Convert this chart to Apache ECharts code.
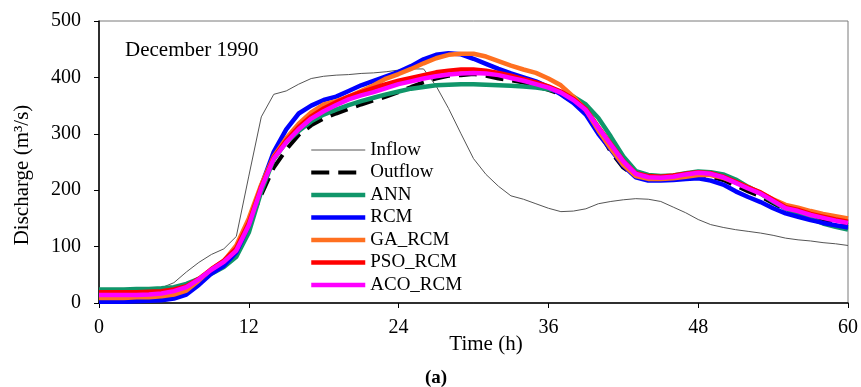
<!DOCTYPE html>
<html>
<head>
<meta charset="utf-8">
<script src="https://cdn.jsdelivr.net/npm/echarts@6/dist/echarts.min.js"></script>
<style>html,body{margin:0;padding:0;background:#fff;}#c{width:861px;height:387px;}</style>
</head>
<body>
<div id="c"></div>
<script>
const hours = [0,1,2,3,4,5,6,7,8,9,10,11,12,13,14,15,16,17,18,19,20,21,22,23,24,25,26,27,28,29,30,31,32,33,34,35,36,37,38,39,40,41,42,43,44,45,46,47,48,49,50,51,52,53,54,55,56,57,58,59,60];
const xTicks = [0,12,24,36,48,60];
const yTicks = [0,100,200,300,400,500];

const inflow = [22,22,22,23,24,27,36,55,72,86,96,118,225,330,370,376,388,398,402,404,405,407,408,410,413,415,415,385,345,300,256,228,207,190,184,176,168,162,163,167,176,180,183,185,184,180,170,160,148,139,134,130,127,124,120,115,112,110,107,105,102];
const outflow = [2,2,3,4,5,7,10,18,35,55,68,92,138,192,240,272,298,315,327,336,344,352,359,366,374,383,391,398,403,404,406,403,398,395,391,384,378,370,356,337,305,268,240,225,220,220,222,225,227,224,218,208,198,189,177,165,159,153,148,143,139];
const ann = [24,24,24,25,25,26,28,34,43,52,64,82,125,198,255,285,305,322,334,343,351,358,364,370,375,380,383,386,387,388,388,387,386,385,384,382,379,374,366,352,328,295,260,234,227,225,226,230,233,232,228,219,206,194,180,167,158,150,141,135,130];
const rcm = [2,2,2,3,4,5,8,15,32,52,66,90,138,208,268,308,336,350,360,366,376,386,394,402,410,420,432,440,443,441,433,424,415,407,400,393,383,370,355,334,300,272,243,223,217,217,218,220,221,217,210,198,188,179,168,159,153,147,142,138,134];
const gaRcm = [9,9,9,10,10,12,15,22,40,60,74,102,150,210,260,292,318,338,352,358,366,376,386,398,406,415,425,434,440,442,442,437,429,421,414,408,398,386,366,342,306,274,245,225,220,220,221,224,227,227,222,214,205,195,184,174,169,163,158,154,150];
const psoRcm = [19,19,19,19,20,21,24,30,43,60,75,97,142,206,258,288,312,331,345,356,366,374,381,388,394,399,404,409,412,414,414,412,408,403,397,391,384,375,362,344,312,282,252,230,225,224,226,229,232,230,224,215,205,196,183,170,165,158,153,148,144];
const acoRcm = [14,14,14,14,15,17,21,28,42,59,73,93,138,204,256,285,308,327,340,351,361,368,374,381,388,393,398,402,405,407,408,407,404,399,394,388,382,373,360,342,311,281,251,229,223,222,224,228,231,229,223,213,203,194,181,168,163,156,151,146,142];

const names = ['Inflow','Outflow','ANN','RCM','GA_RCM','PSO_RCM','ACO_RCM'];
const values = [inflow, outflow, ann, rcm, gaRcm, psoRcm, acoRcm];
const colors = ['#555555','#000000','#10966A','#0000FF','#FF7020','#FF0000','#FF00FF'];
const widths = [1,4,4.5,4.5,4.5,4.5,4.5];

const FONT = 'Liberation Serif';
const series = names.map((n, i) => ({
  name: n,
  type: 'line',
  symbol: 'none',
  showSymbol: false,
  smooth: false,
  z: 2 + i,
  lineStyle: {
    color: colors[i],
    width: widths[i],
    type: i === 1 ? [18, 9] : 'solid'
  },
  itemStyle: {color: colors[i]},
  data: hours.map((h, k) => [h, values[i][k]])
}));

const chart = echarts.init(document.getElementById('c'), null, {renderer: 'canvas'});
chart.setOption({
  animation: false,
  backgroundColor: '#fff',
  grid: {left: 99, right: 9, top: 21, bottom: 84, show: true, borderColor: '#7a7a7a', borderWidth: 1},
  xAxis: {
    type: 'value', min: 0, max: 60, interval: 12,
    axisLine: {show: true, onZero: false, lineStyle: {color: '#000', width: 1.5}},
    axisTick: {show: true, inside: false, length: 5, lineStyle: {color: '#000'}},
    axisLabel: {margin: 15, fontFamily: FONT, fontSize: 20, color: '#000',
      formatter: v => xTicks.includes(v) ? String(v) : ''},
    splitLine: {show: false}
  },
  yAxis: {
    type: 'value', min: 0, max: 500, interval: 100,
    axisLine: {show: true, lineStyle: {color: '#000', width: 1.5}},
    axisTick: {show: true, inside: false, length: 5, lineStyle: {color: '#000'}},
    axisLabel: {margin: 18, fontFamily: FONT, fontSize: 20, color: '#000',
      formatter: v => yTicks.includes(v) ? String(v) : ''},
    splitLine: {show: false}
  },
  legend: {
    orient: 'vertical', left: 309, top: 140, padding: 0,
    itemWidth: 54, itemHeight: 20, itemGap: 2.5,
    itemStyle: {opacity: 0},
    lineStyle: {width: 'inherit'},
    data: names,
    textStyle: {fontFamily: FONT, fontSize: 19, color: '#000', lineHeight: 20}
  },
  graphic: [
    {type: 'text', x: 125, y: 50, style: {text: 'December 1990', font: '21px "Liberation Serif"', fill: '#000', verticalAlign: 'middle', align: 'left'}},
    {type: 'text', x: 22, y: 175, rotation: Math.PI / 2, style: {text: 'Discharge (m³/s)', font: '21px "Liberation Serif"', fill: '#000', verticalAlign: 'middle', align: 'center'}},
    {type: 'text', x: 486, y: 344, style: {text: 'Time (h)', font: '21px "Liberation Serif"', fill: '#000', verticalAlign: 'middle', align: 'center'}},
    {type: 'text', x: 436, y: 378, style: {text: '(a)', font: 'bold 19px "Liberation Serif"', fill: '#000', verticalAlign: 'middle', align: 'center'}}
  ],
  series: series
});
</script>
</body>
</html>
